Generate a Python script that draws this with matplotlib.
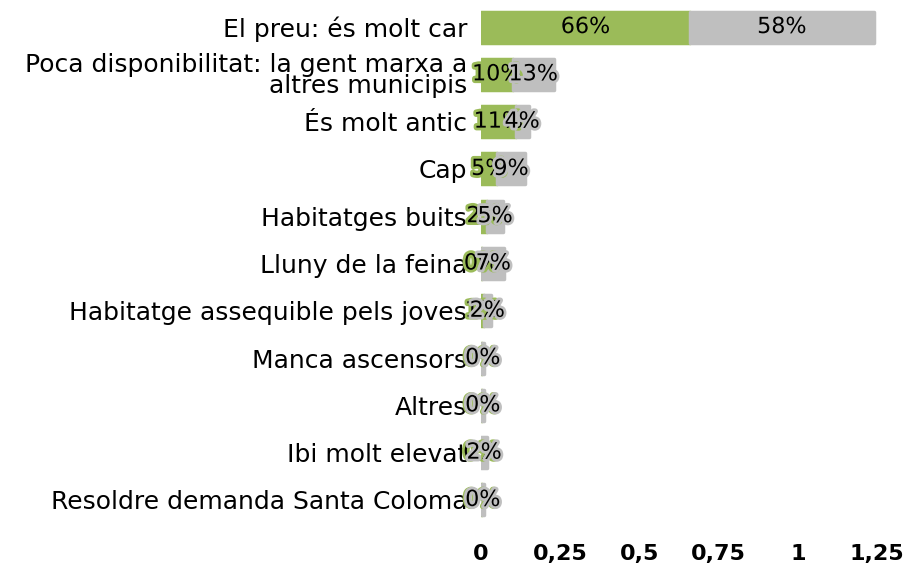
import matplotlib.pyplot as plt
import matplotlib.patheffects as pe
import numpy as np

categories = [
    'El preu: és molt car',
    'Poca disponibilitat: la gent marxa a\naltres municipis',
    'És molt antic',
    'Cap',
    'Habitatges buits',
    'Lluny de la feina',
    'Habitatge assequible pels joves',
    'Manca ascensors',
    'Altres',
    'Ibi molt elevat',
    'Resoldre demanda Santa Coloma',
]
green_vals = [0.66, 0.10, 0.11, 0.05, 0.02, 0.004, 0.01, 0.004, 0.004, 0.0, 0.004]
grey_vals = [0.58, 0.13, 0.04, 0.09, 0.05, 0.07, 0.02, 0.004, 0.004, 0.02, 0.004]
xticks = [0, 0.25, 0.5, 0.75, 1, 1.25]
xticklabels = ['0', '0,25', '0,5', '0,75', '1', '1,25']

GREEN = '#9bbb59'
GREY = '#bfbfbf'

plt.rcParams['font.family'] = ['DejaVu Sans']

fig = plt.figure(figsize=(9.08, 5.67), dpi=100)
ax = fig.add_axes([481 / 908, 1 - 523.6 / 567, 396 / 908, 520.2 / 567])

y = np.arange(len(categories))
h = 0.655
ax.barh(y, green_vals, height=h, color=GREEN, edgecolor=GREEN,
        linewidth=2.5, joinstyle='round')
ax.barh(y, grey_vals, left=green_vals, height=h, color=GREY, edgecolor=GREY,
        linewidth=2.5, joinstyle='round')

for i in range(len(categories)):
    g = green_vals[i]
    r = grey_vals[i]
    ax.text(g / 2, y[i], f'{g:.0%}', ha='center', va='center', fontsize=16,
            color='black',
            path_effects=[pe.withStroke(linewidth=4, foreground=GREEN)])
    ax.text(g + r / 2, y[i], f'{r:.0%}', ha='center', va='center', fontsize=16,
            color='black',
            path_effects=[pe.withStroke(linewidth=4, foreground=GREY)])

ax.set_ylim(len(categories) - 0.5, -0.5)
ax.set_xlim(0, 1.25)
ax.set_yticks(y)
ax.set_yticklabels(categories, fontsize=18, linespacing=0.85)
ax.set_xticks(xticks)
ax.set_xticklabels(xticklabels, fontsize=16, fontweight='bold')
ax.tick_params(axis='both', length=0)
ax.tick_params(axis='y', pad=10)
ax.tick_params(axis='x', pad=15)
for s in ax.spines.values():
    s.set_visible(False)

fig.savefig('out.png', dpi=100)
